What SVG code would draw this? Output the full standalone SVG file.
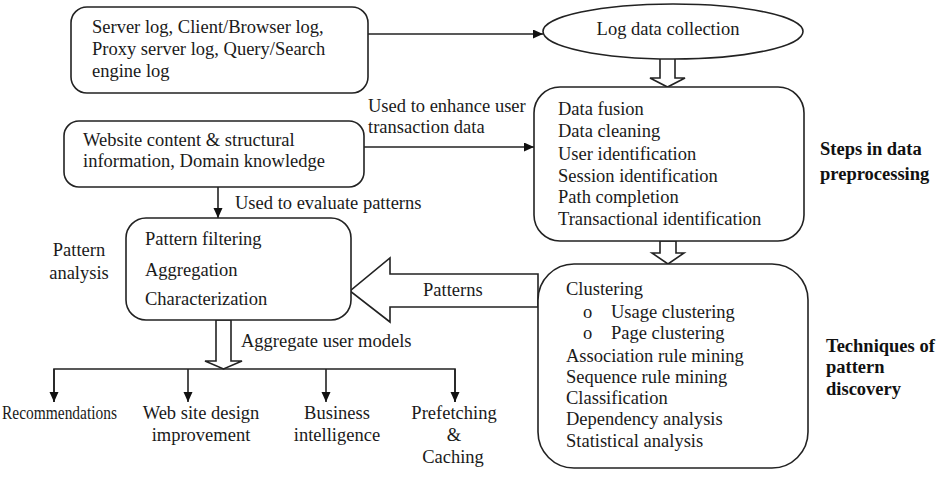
<svg xmlns="http://www.w3.org/2000/svg" width="949" height="478" viewBox="0 0 949 478">
<style>
.box{fill:#fff;stroke:#222;stroke-width:1.6}
.t{font-family:"Liberation Serif","Times New Roman",serif;font-size:18.5px;fill:#1a1a1a}
.b{font-family:"Liberation Serif","Times New Roman",serif;font-size:18.5px;font-weight:bold;fill:#111}
.m{text-anchor:middle}
.ln{fill:none;stroke:#222;stroke-width:1.6}
.ha{fill:#fff;stroke:#222;stroke-width:1.6;stroke-linejoin:miter}
</style>
<defs>
<marker id="ah" markerUnits="userSpaceOnUse" markerWidth="11" markerHeight="10" refX="10" refY="4.5" orient="auto">
<path d="M0,0 L10,4.5 L0,9 z" fill="#111"/>
</marker>
</defs>
<rect width="949" height="478" fill="#fff"/>
<g id="connectors">
<line class="ln" x1="368" y1="34" x2="543" y2="34" marker-end="url(#ah)"/>
<line class="ln" x1="364" y1="147" x2="534" y2="147" marker-end="url(#ah)"/>
<line class="ln" x1="218" y1="187" x2="218" y2="218" marker-end="url(#ah)"/>
<polygon class="ha" points="660,58 675,58 675,78 685,78 667.5,87 650,78 660,78"/>
<polygon class="ha" points="660,241 676,241 676,253 684,253 668,264 652,253 660,253"/>
<polygon class="ha" points="538,274 390,274 390,258 350,291 390,322 390,307 538,307"/>
<polygon class="ha" points="216,320 231,320 231,361 242,361 223.5,369 205,361 216,361"/>
<polyline class="ln" points="54,402 54,369 455,369 455,402"/>
<line class="ln" x1="54" y1="369" x2="54" y2="402" marker-end="url(#ah)"/>
<line class="ln" x1="188" y1="369" x2="188" y2="402" marker-end="url(#ah)"/>
<line class="ln" x1="326" y1="369" x2="326" y2="402" marker-end="url(#ah)"/>
<line class="ln" x1="455" y1="369" x2="455" y2="402" marker-end="url(#ah)"/>
<text class="t" x="368" y="112">Used to enhance user</text>
<text class="t" x="368" y="133">transaction data</text>
<text class="t" x="235" y="209">Used to evaluate patterns</text>
<text class="t" x="423" y="296">Patterns</text>
<text class="t" x="241" y="347">Aggregate user models</text>
</g>
<g id="logsources">
<rect class="box" x="71" y="7" width="297" height="86" rx="16"/>
<text class="t" x="92" y="33">Server log, Client/Browser log,</text>
<text class="t" x="92" y="55">Proxy server log, Query/Search</text>
<text class="t" x="92" y="77">engine log</text>
</g>
<g id="logcollection">
<ellipse class="box" cx="673" cy="31.5" rx="130" ry="27.5"/>
<text class="t m" x="668" y="35">Log data collection</text>
</g>
<g id="website">
<rect class="box" x="64" y="121" width="300" height="66" rx="15"/>
<text class="t" x="83" y="146">Website content &amp; structural</text>
<text class="t" x="83" y="167">information, Domain knowledge</text>
</g>
<g id="preprocessing">
<rect class="box" x="534" y="87" width="270" height="154" rx="26"/>
<text class="t" x="558" y="115">Data fusion</text>
<text class="t" x="558" y="137">Data cleaning</text>
<text class="t" x="558" y="160">User identification</text>
<text class="t" x="558" y="182">Session identification</text>
<text class="t" x="558" y="203">Path completion</text>
<text class="t" x="558" y="225">Transactional identification</text>
</g>
<g id="preprocessing-label">
<text class="b" x="820" y="155">Steps in data</text>
<text class="b" x="820" y="180">preprocessing</text>
</g>
<g id="patternanalysis">
<rect class="box" x="126" y="218" width="225" height="102" rx="20"/>
<text class="t" x="145" y="245">Pattern filtering</text>
<text class="t" x="145" y="276">Aggregation</text>
<text class="t" x="145" y="305">Characterization</text>
</g>
<g id="patternanalysis-label">
<text class="t m" x="79" y="256">Pattern</text>
<text class="t m" x="79" y="279">analysis</text>
</g>
<g id="patterndiscovery">
<rect class="box" x="538" y="264" width="270" height="204" rx="36"/>
<text class="t" x="566" y="295">Clustering</text>
<text class="t" x="583" y="318">o</text>
<text class="t" x="611" y="318">Usage clustering</text>
<text class="t" x="583" y="339">o</text>
<text class="t" x="611" y="339">Page clustering</text>
<text class="t" x="566" y="362">Association rule mining</text>
<text class="t" x="566" y="383">Sequence rule mining</text>
<text class="t" x="566" y="404">Classification</text>
<text class="t" x="566" y="425">Dependency analysis</text>
<text class="t" x="566" y="447">Statistical analysis</text>
</g>
<g id="patterndiscovery-label">
<text class="b" x="826" y="352">Techniques of</text>
<text class="b" x="826" y="373">pattern</text>
<text class="b" x="826" y="395">discovery</text>
</g>
<g id="recommendations">
<text class="t" x="2" y="419" textLength="115" lengthAdjust="spacingAndGlyphs">Recommendations</text>
</g>
<g id="sitedesign">
<text class="t m" x="201" y="419">Web site design</text>
<text class="t m" x="201" y="441">improvement</text>
</g>
<g id="business">
<text class="t m" x="337" y="419">Business</text>
<text class="t m" x="337" y="441">intelligence</text>
</g>
<g id="prefetching">
<text class="t m" x="454" y="419">Prefetching</text>
<text class="t m" x="454" y="441">&amp;</text>
<text class="t m" x="453" y="463">Caching</text>
</g>
</svg>
